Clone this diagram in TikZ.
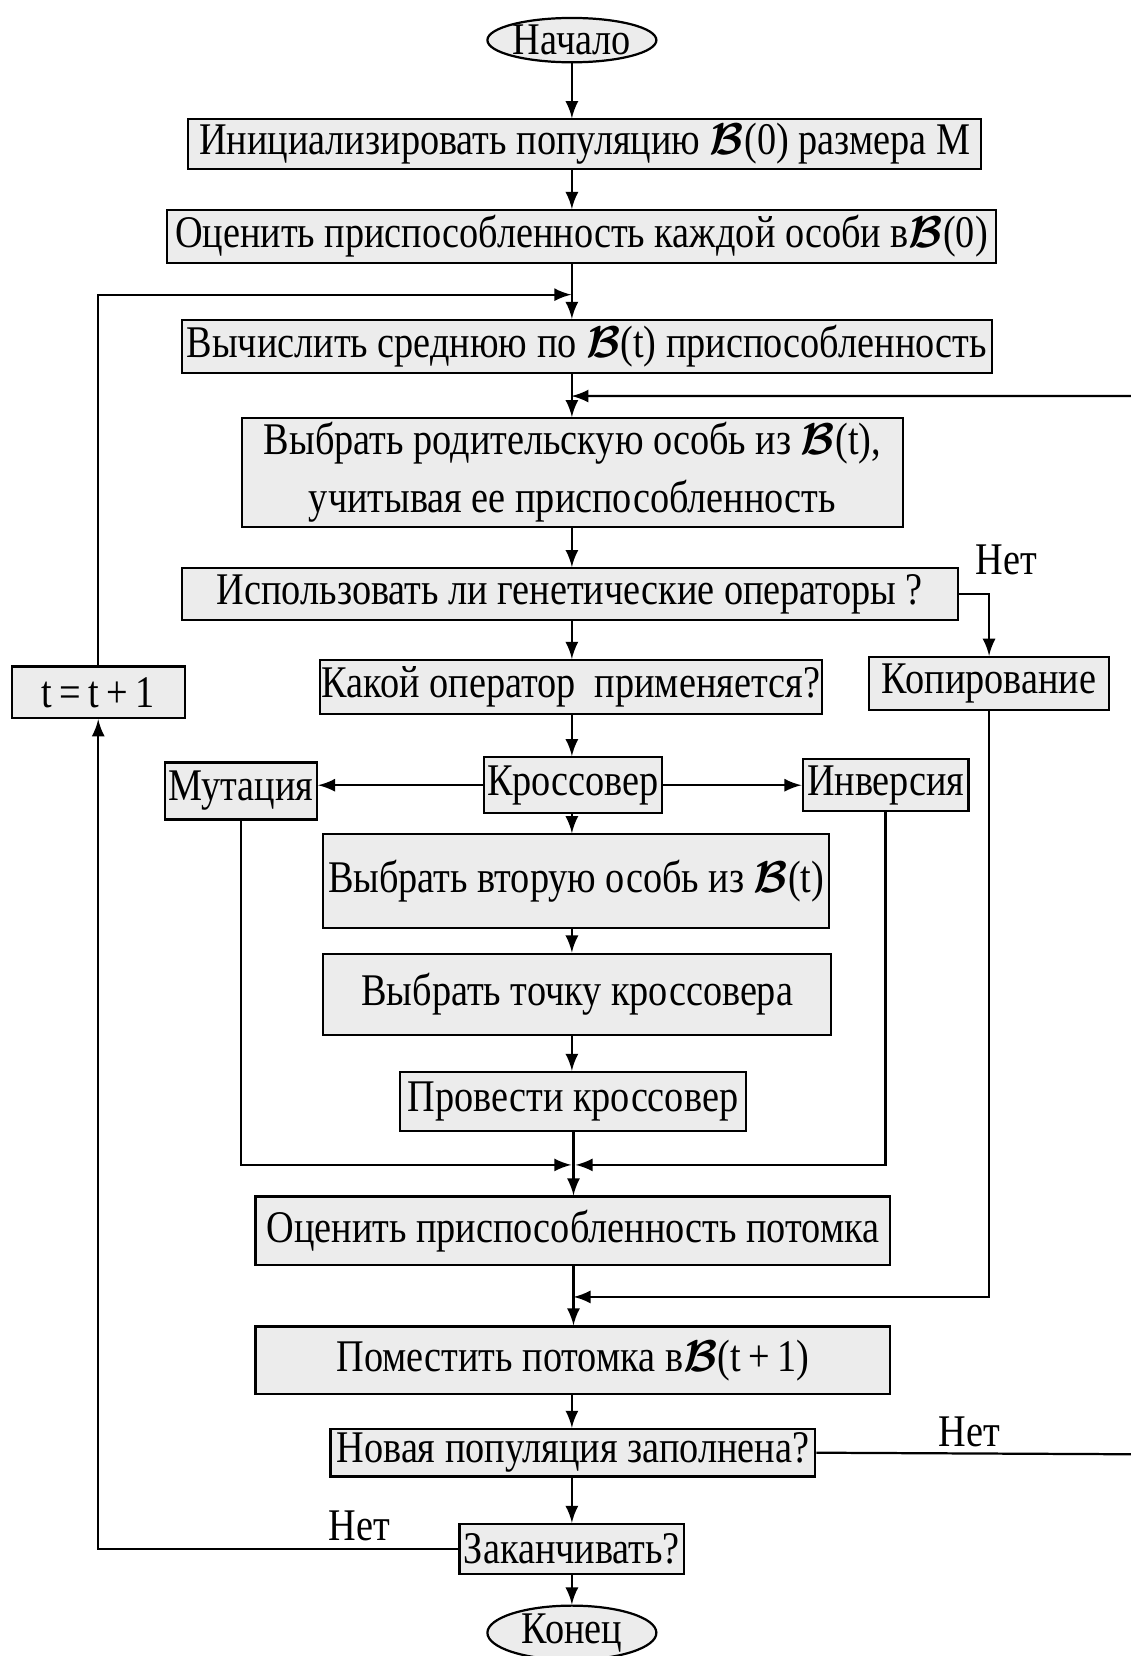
\documentclass[tikz,border=0pt]{standalone}
\usepackage{amsmath}
\usepackage{amssymb}
\usepackage{fontspec}
\setmainfont[FakeStretch=0.845]{Liberation Serif}
\usepackage{tikz}
\usetikzlibrary{shapes, arrows, positioning, calc}

\newcommand{\PopB}{$\boldsymbol{\mathcal{B}}$}

\tikzset{
    box/.style={draw, semithick, fill=gray!15, inner sep=0pt, align=center},
    term/.style={ellipse, draw, semithick, fill=gray!15, inner sep=0pt},
    line/.style={semithick, -latex},
    nolabel/.style={inner sep=0pt}
}

\begin{document}
\begin{tikzpicture}[font=\fontsize{12.2}{15.6}\selectfont]
    \useasboundingbox (0,0) rectangle (10.70,-15.68);

    % Start and initialisation
    \node[term, minimum width=1.60cm, minimum height=0.42cm] (start) at (5.415,-0.38) {Начало};
    \node[box, minimum width=7.51cm, minimum height=0.47cm] (init) at (5.535,-1.365) {Инициализировать популяцию \PopB(0) размера M};
    \node[box, minimum width=7.85cm, minimum height=0.50cm] (eval0) at (5.505,-2.24) {Оценить приспособленность каждой особи в\PopB(0)};
    \node[box, minimum width=7.67cm, minimum height=0.50cm] (avg) at (5.555,-3.28) {Вычислить среднюю по \PopB(t) приспособленность};
    \node[box, minimum width=6.26cm, minimum height=1.03cm] (select) at (5.42,-4.475) {Выбрать родительскую особь из \PopB(t),\\учитывая ее приспособленность};

    % Operator choice
    \node[box, minimum width=7.35cm, minimum height=0.49cm] (useop) at (5.395,-5.625) {Использовать ли генетические операторы ?};
    \node[box, minimum width=4.75cm, minimum height=0.51cm] (which) at (5.405,-6.505) {Какой оператор\ \ применяется?};
    \node[box, minimum width=2.27cm, minimum height=0.50cm] (copy) at (9.365,-6.47) {Копирование};
    \node[box, minimum width=1.64cm, minimum height=0.49cm] (tinc) at (0.93,-6.555) {t\,=\,t\,+\,1};

    % Operators
    \node[box, minimum width=1.69cm, minimum height=0.53cm] (cross) at (5.425,-7.435) {Кроссовер};
    \node[box, minimum width=1.44cm, minimum height=0.54cm] (mut) at (2.28,-7.49) {Мутация};
    \node[box, minimum width=1.57cm, minimum height=0.49cm] (inv) at (8.385,-7.435) {Инверсия};

    % Crossover steps
    \node[box, minimum width=4.79cm, minimum height=0.89cm] (second) at (5.455,-8.345) {Выбрать вторую особь из \PopB(t)};
    \node[box, minimum width=4.81cm, minimum height=0.77cm] (point) at (5.465,-9.415) {Выбрать точку кроссовера};
    \node[box, minimum width=3.27cm, minimum height=0.56cm] (doX) at (5.425,-10.43) {Провести кроссовер};

    % Offspring
    \node[box, minimum width=6.01cm, minimum height=0.65cm] (evalchild) at (5.425,-11.655) {Оценить приспособленность потомка};
    \node[box, minimum width=6.01cm, minimum height=0.64cm] (place) at (5.425,-12.88) {Поместить потомка в\PopB(t\,+\,1)};
    \node[box, minimum width=4.59cm, minimum height=0.45cm] (full) at (5.425,-13.755) {Новая популяция заполнена?};
    \node[box, minimum width=2.13cm, minimum height=0.47cm] (finish) at (5.415,-14.665) {Заканчивать?};
    \node[term, minimum width=1.60cm, minimum height=0.44cm] (stop) at (5.415,-15.46) {Конец};

    % Labels
    \node[nolabel] (no1) at (9.53,-5.30) {Нет};
    \node[nolabel] (no2) at (9.18,-13.56) {Нет};
    \node[nolabel] (no3) at (3.40,-14.45) {Нет};

    % Junction points
    \coordinate (j1) at (5.41,-2.79);
    \coordinate (j2) at (5.41,-3.75);
    \coordinate (j3) at (5.43,-12.28);
    \coordinate (j4) at (5.41,-11.03);
    \coordinate (j5) at (5.45,-11.03);
    \coordinate (edge) at (10.76,-13.77);

    % Main flow
    \draw[line] (start) -- (start |- init.north);
    \draw[line] (start |- init.south) -- (start |- eval0.north);
    \draw[line] (start |- eval0.south) -- (start |- avg.north);
    \draw[line] (start |- avg.south) -- (start |- select.north);
    \draw[line] (start |- select.south) -- (start |- useop.north);
    \draw[line] (start |- useop.south) -- (start |- which.north);
    \draw[line] (start |- which.south) -- (start |- cross.north);
    \draw[line] (start |- cross.south) -- (start |- second.north);
    \draw[line] (start |- second.south) -- (start |- point.north);
    \draw[line] (start |- point.south) -- (start |- doX.north);
    \draw[line] (j3 |- doX.south) -- (j3 |- evalchild.north);
    \draw[line] (j3 |- evalchild.south) -- (j3 |- place.north);
    \draw[line] (start |- place.south) -- (start |- full.north);
    \draw[line] (start |- full.south) -- (start |- finish.north);
    \draw[line] (start |- finish.south) -- (stop);

    % Side branches
    \draw[line] (useop.east) -| (copy.north);
    \draw[line] (cross.west) -- (cross.west -| mut.east);
    \draw[line] (cross.east) -- (cross.east -| inv.west);
    \draw[line] (mut.south) |- (j4);
    \draw[line] (inv.south) |- (j5);
    \draw[line] (copy.south) |- (j3);

    % Loops
    \draw[line] (full.east) -- (edge) |- (j2);
    \draw[line] (finish.west) -| (tinc.south);
    \draw[line] (tinc.north) |- (j1);
\end{tikzpicture}
\end{document}
